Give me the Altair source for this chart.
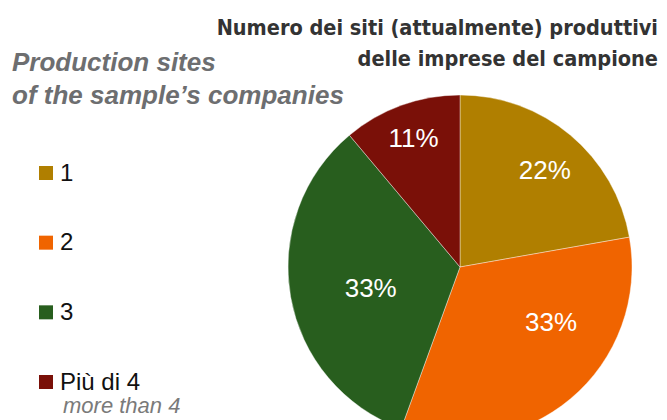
import math
import altair as alt
import pandas as pd

# ---------------- data ----------------
categories = ["1", "2", "3", "Più di 4"]
counts = [2, 3, 3, 1]
sub_labels = ["", "", "", "more than 4"]
title_lines = ["Numero dei siti (attualmente) produttivi", "delle imprese del campione"]
subtitle_lines = ["Production sites", "of the sample\u2019s companies"]

# ---------------- style ----------------
colors = ["#B07F00", "#F06400", "#285E1E", "#7A1008"]
W, H = 651, 412
CX, CY, R = 452, 259, 172
# label placement: (radius px, angular shift in degrees from slice middle)
label_place = {"1": (128, 1.5), "2": (107, -18.4), "3": (92, -3.9), "Più di 4": (136, 0.0)}

total = sum(counts)
df = pd.DataFrame({"cat": categories, "value": counts, "idx": list(range(len(categories))),
                   "sub": sub_labels})
df["label"] = [f"{round(100 * c / total)}%" for c in counts]
cum = df["value"].cumsum()
mid = (cum - df["value"] / 2) / total * 2 * math.pi
df["ang"] = [m + math.radians(label_place[c][1]) for m, c in zip(mid, df["cat"])]
df["rad"] = [label_place[c][0] for c in df["cat"]]

base = alt.Chart(df)

pie = base.mark_arc(radius=R, stroke="#ffffff", strokeWidth=0.4).encode(
    theta=alt.Theta("value:Q", stack=True),
    color=alt.Color("cat:N", scale=alt.Scale(domain=categories, range=colors), legend=None),
    order=alt.Order("idx:Q"),
    x=alt.value(CX),
    y=alt.value(CY),
)

pie_labels = base.mark_text(font="Liberation Sans", fontSize=26, color="white",
                            align="center", baseline="middle").encode(
    theta=alt.Theta("ang:Q", scale=None, stack=False),
    radius=alt.Radius("rad:Q", scale=None),
    x=alt.value(CX),
    y=alt.value(CY),
    text="label:N",
)

ypos = alt.Y("cat:N", scale=alt.Scale(type="point", domain=categories, range=[165, 374], padding=0),
             axis=None)

legend_sq = base.mark_square(size=196, opacity=1).encode(
    x=alt.value(38),
    y=ypos,
    color=alt.Color("cat:N", scale=alt.Scale(domain=categories, range=colors), legend=None),
)

legend_txt = base.mark_text(font="Liberation Sans", fontSize=24, color="#111111",
                            align="left", baseline="alphabetic", dy=7.5).encode(
    x=alt.value(52),
    y=ypos,
    text="cat:N",
)

legend_sub = base.mark_text(font="Liberation Sans", fontSize=22, fontStyle="italic",
                            color="#7a7a7a", align="left", baseline="alphabetic", dy=31).encode(
    x=alt.value(55),
    y=ypos,
    text="sub:N",
)

title = alt.Chart(pd.DataFrame({"a": [0]})).mark_text(
    font="DejaVu Sans Condensed", fontWeight="bold", fontSize=21.5,
    color="#333333", align="right", baseline="alphabetic", lineHeight=31,
).encode(x=alt.value(650), y=alt.value(27), text=alt.value(title_lines))

subtitle = alt.Chart(pd.DataFrame({"a": [0]})).mark_text(
    font="Liberation Sans", fontWeight="bold", fontStyle="italic", fontSize=26,
    color="#6d6e70", align="left", baseline="alphabetic", lineHeight=33,
).encode(x=alt.value(4), y=alt.value(63), text=alt.value(subtitle_lines))

chart = alt.layer(pie, pie_labels, legend_sq, legend_txt, legend_sub, title, subtitle).resolve_scale(
    theta="independent", radius="independent"
).properties(
    width=W, height=H, autosize="none", padding=0
).configure_view(stroke=None)

chart.save("out.html", embed_options={"renderer": "svg", "actions": False})
